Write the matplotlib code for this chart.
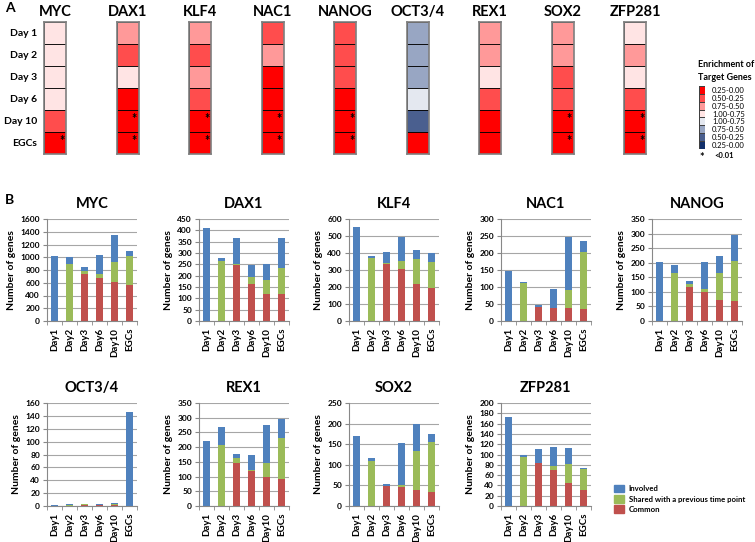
import numpy as np
import matplotlib
matplotlib.use("Agg")
from matplotlib import pyplot as plt
from matplotlib.colors import ListedColormap
from matplotlib.patches import Patch

plt.rcParams['font.family'] = ['Lato', 'DejaVu Sans']
plt.rcParams['font.weight'] = 'bold'

W, H = 755, 542

# ---- panel A data: enrichment class per time point (0 = red 0.25-0.00 ... 7 = blue 0.25-0.00)
genes = ['MYC', 'DAX1', 'KLF4', 'NAC1', 'NANOG', 'OCT3/4', 'REX1', 'SOX2', 'ZFP281']
days_a = ['Day 1', 'Day 2', 'Day 3', 'Day 6', 'Day 10', 'EGCs']
levels = {
    'MYC':    [3, 3, 3, 3, 1, 0],
    'DAX1':   [2, 1, 3, 0, 0, 0],
    'KLF4':   [2, 1, 2, 1, 0, 0],
    'NAC1':   [1, 2, 0, 0, 0, 0],
    'NANOG':  [1, 1, 1, 0, 0, 0],
    'OCT3/4': [5, 5, 5, 4, 6, 0],
    'REX1':   [2, 2, 3, 1, 0, 0],
    'SOX2':   [2, 2, 1, 1, 0, 0],
    'ZFP281': [3, 2, 3, 1, 0, 0],
}
# significant (p<0.01) cells
stars = {
    'MYC': [5], 'DAX1': [4, 5], 'KLF4': [4, 5], 'NAC1': [4, 5], 'NANOG': [4, 5],
    'OCT3/4': [], 'REX1': [], 'SOX2': [4, 5], 'ZFP281': [4, 5],
}
level_colors = ['#FF0000', '#FF4D4D', '#FF9999', '#FFE4E4',
                '#E4E8F0', '#98A6C3', '#4A5F8F', '#12306B']
level_labels = ['0.25-0.00', '0.50-0.25', '0.75-0.50', '1.00-0.75',
                '1.00-0.75', '0.75-0.50', '0.50-0.25', '0.25-0.00']

# ---- panel B data: stacked bar segments
days_b = ['Day1', 'Day2', 'Day3', 'Day6', 'Day10', 'EGCs']
common = {
    'MYC':    [0, 0, 740, 680, 610, 560],
    'DAX1':   [0, 0, 245, 163, 117, 117],
    'KLF4':   [0, 0, 333, 308, 218, 197],
    'NAC1':   [0, 0, 42, 39, 39, 35],
    'NANOG':  [0, 0, 117, 99, 72, 68],
    'OCT3/4': [0, 0, 2, 2, 1, 0],
    'REX1':   [0, 0, 147, 119, 100, 91],
    'SOX2':   [0, 0, 48, 47, 38, 33],
    'ZFP281': [0, 0, 84, 69, 44, 31],
}
shared = {
    'MYC':    [0, 900, 40, 60, 320, 460],
    'DAX1':   [0, 265, 8, 29, 66, 119],
    'KLF4':   [0, 370, 7, 44, 144, 148],
    'NAC1':   [0, 113, 0, 0, 52, 169],
    'NANOG':  [0, 165, 9, 11, 93, 139],
    'OCT3/4': [0, 2, 1, 0, 2, 0],
    'REX1':   [0, 208, 17, 5, 47, 140],
    'SOX2':   [0, 110, 0, 3, 96, 123],
    'ZFP281': [0, 95, 0, 8, 37, 41],
}
involved = {
    'MYC':    [1025, 100, 60, 300, 415, 85],
    'DAX1':   [410, 13, 115, 56, 69, 132],
    'KLF4':   [553, 13, 65, 140, 53, 55],
    'NAC1':   [148, 1, 5, 55, 156, 30],
    'NANOG':  [203, 26, 11, 93, 58, 87],
    'OCT3/4': [2, 1, 0, 1, 1, 146],
    'REX1':   [221, 62, 13, 48, 127, 63],
    'SOX2':   [171, 7, 5, 103, 66, 19],
    'ZFP281': [173, 5, 26, 37, 32, 2],
}
ymax = {'MYC': 1600, 'DAX1': 450, 'KLF4': 600, 'NAC1': 300, 'NANOG': 350,
        'OCT3/4': 160, 'REX1': 350, 'SOX2': 250, 'ZFP281': 200}
ystep = {'MYC': 200, 'DAX1': 50, 'KLF4': 100, 'NAC1': 50, 'NANOG': 50,
         'OCT3/4': 20, 'REX1': 50, 'SOX2': 50, 'ZFP281': 20}

c_inv, c_sh, c_com = '#4F81BD', '#9BBB59', '#C0504D'


def box(x0, y0, x1, y1):
    # pixel box -> figure fraction rect
    return [x0 / W, 1 - y1 / H, (x1 - x0) / W, (y1 - y0) / H]


fig = plt.figure(figsize=(W / 100, H / 100), dpi=100)
cmap = ListedColormap(level_colors)

# ---------------- panel A ----------------
fig.text(5 / W, 1 - 12 / H, 'A', fontsize=10, fontweight='bold')
for i, g in enumerate(genes):
    x0 = 44 + 72.5 * i
    ax = fig.add_axes(box(x0, 22, x0 + 22, 154))
    arr = np.array(levels[g]).reshape(-1, 1)
    ax.pcolormesh(arr, cmap=cmap, vmin=-0.5, vmax=7.5,
                  edgecolors='black', linewidth=0.6, antialiased=True)
    ax.set_xlim(0, 1)
    ax.set_ylim(len(days_a), 0)
    for r in stars[g]:
        ax.text(0.8, r + 0.4, '*', ha='center', va='center',
                fontsize=9, fontweight='bold', color='black')
    for s in ax.spines.values():
        s.set_color('#7F7F7F')
        s.set_linewidth(1.2)
    ax.set_xticks([])
    ax.set_title(g, fontsize=10.5, fontweight='bold', pad=4)
    if i == 0:
        ax.set_yticks(np.arange(len(days_a)) + 0.5)
        ax.set_yticklabels(days_a, fontsize=7.5, fontweight='bold')
        ax.tick_params(axis='y', length=0, pad=5)
    else:
        ax.set_yticks([])

# heatmap legend
fig.text(698 / W, 1 - 71 / H, 'Enrichment of\nTarget Genes', fontsize=6.5,
         fontweight='bold', va='center', linespacing=1.6)
lax = fig.add_axes(box(699, 86, 705, 149))
lax.pcolormesh(np.arange(len(level_colors)).reshape(-1, 1), cmap=cmap,
               vmin=-0.5, vmax=7.5, edgecolors='#404040', linewidth=0.4)
lax.set_ylim(len(level_colors), 0)
lax.set_xticks([])
lax.yaxis.tick_right()
lax.set_yticks(np.arange(len(level_colors)) + 0.5)
lax.set_yticklabels(level_labels, fontsize=5.5, fontweight='normal')
lax.tick_params(axis='y', length=0, pad=5)
for s in lax.spines.values():
    s.set_visible(False)
fig.text(702 / W, 1 - 158 / H, '*', fontsize=8, fontweight='bold',
         ha='center', va='center')
fig.text(714 / W, 1 - 156 / H, '<0.01', fontsize=5.5, va='center')

# ---------------- panel B ----------------
fig.text(5 / W, 1 - 204 / H, 'B', fontsize=10, fontweight='bold')
lefts = [47, 199, 349, 501, 652]
x = np.arange(len(days_b))
for i, g in enumerate(genes):
    row, col = divmod(i, 5)
    top, bot = (219, 321) if row == 0 else (403, 506)
    ax = fig.add_axes(box(lefts[col], top, lefts[col] + 90, bot))
    c = np.array(common[g])
    s = np.array(shared[g])
    v = np.array(involved[g])
    ax.bar(x, c, width=0.45, color=c_com)
    ax.bar(x, s, width=0.45, bottom=c, color=c_sh)
    ax.bar(x, v, width=0.45, bottom=c + s, color=c_inv)
    ax.set_xlim(-0.5, len(days_b) - 0.5)
    ax.set_ylim(0, ymax[g])
    ax.set_yticks(np.arange(0, ymax[g] + 1, ystep[g]))
    ax.yaxis.grid(True, color='#A6A6A6', linewidth=0.8)
    ax.set_axisbelow(True)
    ax.set_xticks(x)
    ax.set_xticklabels(days_b, rotation=90, fontsize=7, fontweight='bold')
    ax.set_xticks(np.arange(-0.5, len(days_b)), minor=True)
    ax.tick_params(axis='x', which='major', length=0, pad=5)
    ax.tick_params(axis='x', which='minor', length=3, color='#888888')
    ax.tick_params(axis='y', length=3, color='#888888', labelsize=6, pad=2)
    for lab in ax.get_yticklabels():
        lab.set_fontweight('bold')
    for side in ['top', 'right']:
        ax.spines[side].set_visible(False)
    for side in ['left', 'bottom']:
        ax.spines[side].set_color('#888888')
    ax.set_ylabel('Number of genes', fontsize=7.5, fontweight='bold', labelpad=3)
    ax.set_title(g, fontsize=10.5, fontweight='bold', pad=8)

handles = [Patch(color=c_inv), Patch(color=c_sh), Patch(color=c_com)]
fig.legend(handles, ['Involved', 'Shared with a previous time point', 'Common'],
           loc='upper left', bbox_to_anchor=(607 / W, 1 - 478 / H), frameon=False,
           fontsize=5.6, handlelength=1.3, handleheight=1.1, labelspacing=0.35,
           handletextpad=0.6)

plt.savefig('out.png', dpi=100)
